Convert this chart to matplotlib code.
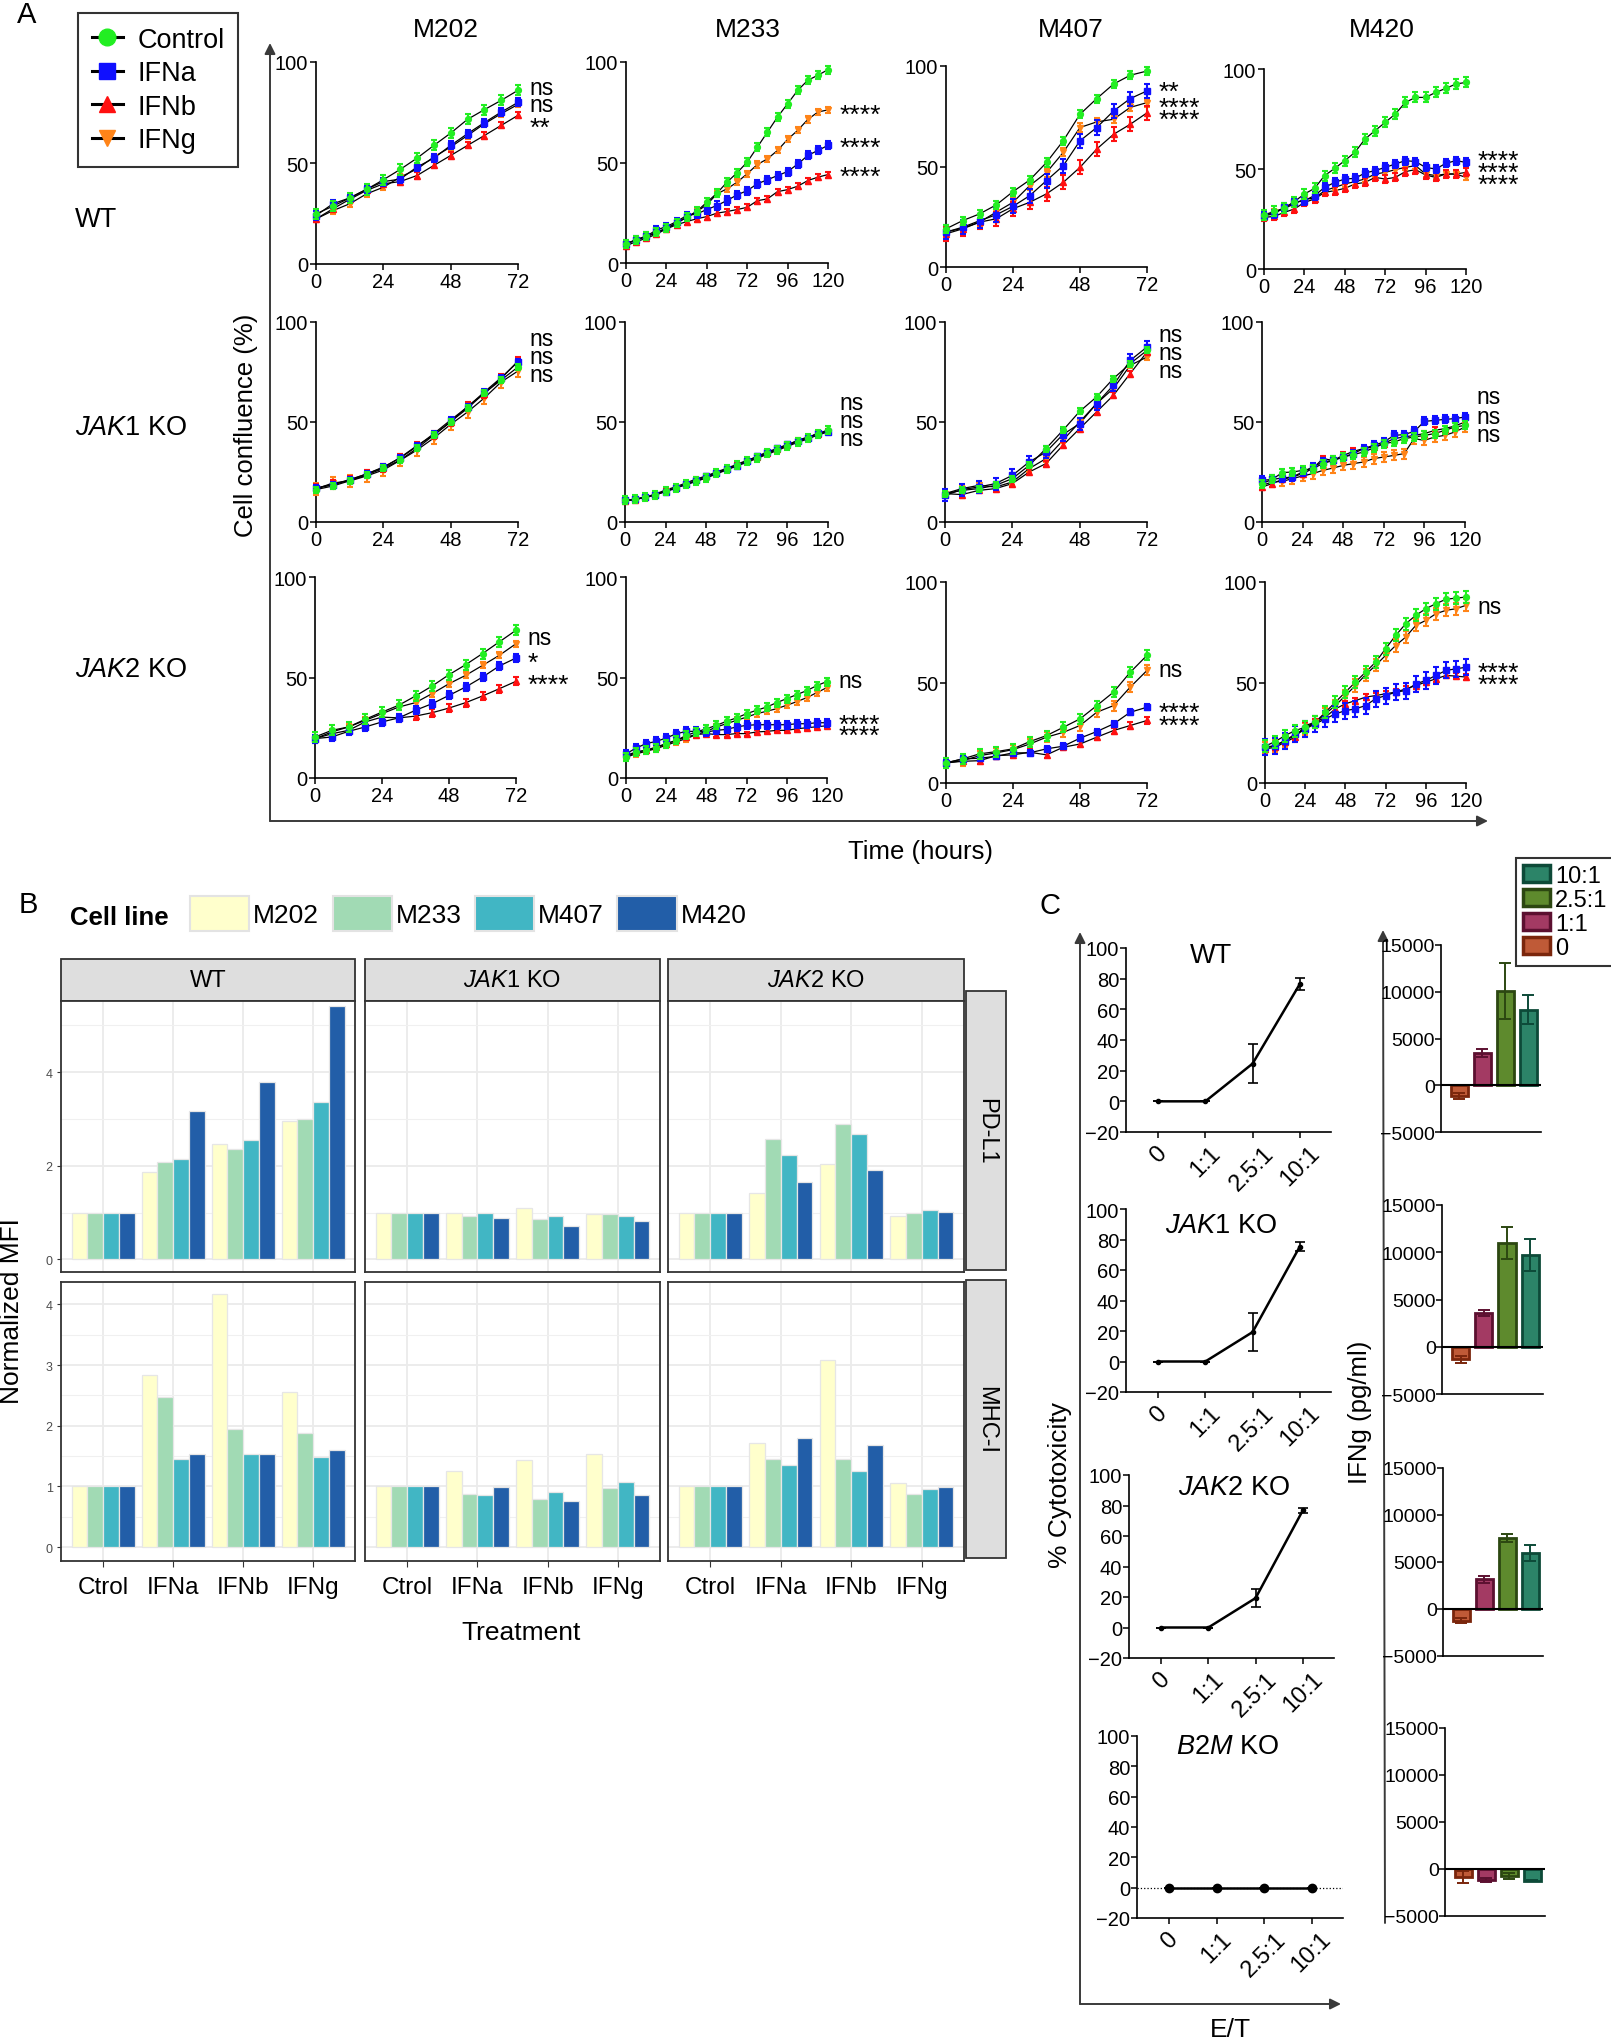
import numpy as np
import matplotlib.pyplot as plt
from matplotlib.lines import Line2D
from matplotlib.patches import Patch, Rectangle

plt.rcParams['font.family'] = ['Liberation Sans', 'DejaVu Sans']
plt.rcParams['mathtext.fontset'] = 'custom'
plt.rcParams['mathtext.rm'] = 'Liberation Sans'
plt.rcParams['mathtext.it'] = 'Liberation Sans:italic'
plt.rcParams['mathtext.bf'] = 'Liberation Sans:bold'

# ---------------- panel A: confluence (%) ; rows = Control, IFNa, IFNb, IFNg
treatments = ['Control', 'IFNa', 'IFNb', 'IFNg']
cell_lines = ['M202', 'M233', 'M407', 'M420']
hours = [72, 120, 72, 120]

wt_m202 = [
    [24.8, 28.6, 32.7, 36.9, 41.7, 46.8, 52.4, 58.7, 64.8, 71.6, 76.4, 81.0, 86.0],
    [24.0, 29.8, 32.7, 37.0, 40.8, 42.0, 48.0, 52.4, 58.7, 64.5, 70.0, 75.2, 80.0],
    [22.3, 27.3, 32.0, 36.4, 39.7, 40.8, 43.8, 48.8, 53.7, 58.7, 63.6, 68.6, 73.6],
    [22.3, 26.4, 29.8, 34.7, 38.0, 43.0, 47.0, 53.0, 57.9, 63.6, 69.4, 74.4, 79.0],
]
wt_m233 = [
    [9.5, 11.6, 13.3, 15.3, 17.3, 20.0, 22.8, 25.7, 30.2, 34.7, 40.2, 44.9, 50.2, 57.6, 65.1, 72.6, 79.2, 85.9, 90.9, 93.4, 96.2],
    [9.5, 11.6, 13.3, 16.4, 18.1, 20.6, 23.6, 24.4, 26.6, 28.6, 31.1, 33.9, 36.0, 39.4, 41.4, 43.5, 45.5, 49.2, 53.5, 56.0, 58.5],
    [8.6, 10.6, 12.3, 14.3, 17.0, 19.0, 20.6, 22.0, 23.1, 24.8, 25.6, 26.6, 27.7, 31.0, 31.9, 35.5, 36.5, 38.2, 41.0, 42.7, 44.0],
    [9.5, 11.4, 13.0, 15.0, 17.2, 19.8, 22.6, 25.5, 29.0, 34.4, 36.9, 40.2, 44.4, 49.0, 51.8, 56.0, 61.5, 66.0, 71.4, 75.1, 76.2],
]
wt_m407 = [
    [19.0, 23.1, 26.4, 30.9, 37.5, 43.3, 52.0, 62.8, 76.0, 83.8, 91.0, 95.4, 97.5],
    [17.4, 19.8, 23.0, 26.0, 30.2, 35.5, 43.0, 50.4, 62.8, 69.4, 77.6, 83.8, 87.6],
    [16.5, 19.0, 22.3, 24.0, 29.0, 32.2, 36.4, 42.1, 49.6, 58.7, 66.0, 71.0, 76.7],
    [17.4, 19.3, 22.3, 27.3, 32.2, 40.5, 47.0, 57.0, 69.4, 72.2, 73.5, 79.4, 81.8],
]
wt_m420 = [
    [27.0, 28.8, 30.3, 33.7, 37.5, 40.3, 46.7, 50.3, 54.2, 58.3, 65.0, 69.2, 73.3, 77.5, 83.3, 85.8, 85.8, 88.3, 90.3, 92.5, 93.3],
    [26.7, 27.5, 30.8, 33.3, 34.2, 36.7, 40.8, 43.3, 45.0, 45.3, 48.0, 49.2, 50.8, 52.5, 54.2, 53.7, 50.8, 50.0, 52.8, 54.2, 53.3],
    [25.8, 26.3, 28.3, 30.0, 33.3, 35.0, 38.3, 39.2, 40.3, 42.5, 43.3, 45.8, 45.0, 45.8, 48.7, 49.7, 47.0, 45.8, 47.5, 47.5, 48.3],
    [26.7, 28.3, 30.3, 32.5, 35.0, 35.3, 39.2, 40.8, 42.5, 43.7, 45.0, 47.5, 48.3, 49.7, 50.8, 51.7, 47.5, 46.7, 47.5, 47.5, 45.8],
]
jak1_m202 = [
    [16.2, 18.0, 20.6, 23.5, 26.8, 31.0, 36.8, 43.5, 50.2, 56.8, 64.5, 71.0, 77.5],
    [16.8, 18.6, 21.0, 24.0, 27.5, 32.0, 37.8, 44.2, 51.0, 57.5, 65.0, 72.2, 80.0],
    [17.0, 18.8, 21.2, 24.0, 27.2, 32.2, 38.2, 43.5, 50.0, 57.8, 64.2, 71.8, 80.5],
    [16.5, 19.5, 20.5, 23.0, 26.0, 30.8, 36.0, 42.0, 48.8, 55.0, 62.0, 70.0, 75.5],
]
jak1_m233 = [
    [10.8, 11.5, 12.5, 13.7, 15.5, 17.0, 18.8, 20.5, 22.2, 24.3, 26.3, 28.4, 30.3, 32.2, 34.3, 36.2, 38.2, 40.2, 42.0, 44.2, 46.0],
    [10.8, 11.3, 12.3, 13.6, 15.2, 16.8, 19.0, 20.8, 22.8, 24.6, 26.5, 28.2, 30.5, 32.8, 35.0, 36.8, 38.8, 40.5, 42.0, 44.5, 45.2],
    [10.5, 11.2, 12.4, 14.0, 16.0, 17.6, 19.5, 21.5, 23.0, 25.0, 26.8, 28.8, 30.8, 32.5, 34.5, 36.5, 38.5, 40.8, 42.5, 44.0, 45.5],
    [10.6, 11.4, 12.2, 13.5, 15.4, 17.2, 18.6, 20.3, 22.0, 24.0, 26.0, 28.0, 29.8, 31.8, 33.8, 35.8, 37.8, 39.8, 41.5, 43.5, 45.0],
]
jak1_m407 = [
    [14.2, 15.8, 16.7, 18.3, 21.7, 28.3, 36.7, 45.8, 55.3, 62.5, 71.7, 79.2, 85.8],
    [13.3, 16.2, 17.5, 19.2, 23.3, 30.0, 35.0, 43.7, 49.2, 59.2, 68.3, 80.8, 87.5],
    [14.2, 13.7, 15.8, 16.7, 19.2, 25.0, 29.2, 38.3, 46.7, 55.0, 63.3, 74.2, 85.0],
    [14.2, 16.7, 18.3, 17.5, 20.0, 26.7, 31.7, 40.8, 50.0, 59.2, 66.7, 78.3, 82.5],
]
jak1_m420 = [
    [19.2, 21.3, 24.7, 25.0, 25.8, 26.7, 29.2, 30.8, 32.5, 33.7, 35.0, 37.0, 39.2, 40.0, 41.7, 42.5, 43.3, 44.2, 45.8, 47.5, 48.3],
    [20.8, 21.3, 22.0, 22.5, 25.0, 27.5, 30.0, 30.8, 32.5, 34.2, 36.7, 38.3, 40.0, 43.3, 43.7, 45.3, 50.3, 50.8, 51.3, 51.7, 52.5],
    [17.5, 19.2, 21.3, 22.5, 24.2, 26.7, 31.7, 30.8, 33.3, 35.3, 36.7, 37.5, 39.2, 41.7, 42.5, 43.3, 44.2, 45.8, 46.7, 48.0, 50.0],
    [18.3, 20.0, 20.3, 21.7, 23.0, 24.2, 25.8, 27.0, 28.3, 29.2, 30.0, 31.7, 32.5, 33.3, 34.2, 41.7, 40.8, 42.5, 43.3, 45.0, 47.5],
]
jak2_m202 = [
    [20.4, 23.7, 25.4, 29.2, 32.8, 36.2, 40.8, 45.8, 51.4, 56.4, 61.9, 67.7, 73.5],
    [19.6, 20.4, 23.2, 25.4, 27.9, 29.9, 33.7, 37.0, 41.1, 45.3, 50.2, 55.7, 59.7],
    [19.6, 22.0, 23.7, 27.9, 30.3, 29.9, 30.8, 32.5, 34.8, 37.5, 40.8, 44.4, 48.1],
    [19.6, 22.9, 25.4, 28.7, 32.0, 35.3, 37.5, 42.0, 46.9, 51.1, 56.0, 61.0, 66.8],
]
jak2_m233 = [
    [10.4, 12.9, 13.8, 14.9, 17.1, 18.7, 21.2, 22.9, 24.5, 26.2, 28.2, 29.9, 32.0, 33.7, 35.3, 37.5, 39.5, 41.5, 43.5, 46.0, 48.0],
    [12.0, 14.9, 17.1, 18.2, 19.9, 22.0, 23.2, 23.2, 22.9, 23.7, 24.2, 25.4, 26.2, 26.5, 26.5, 26.5, 26.5, 27.0, 27.0, 27.5, 27.5],
    [11.3, 12.9, 13.8, 15.4, 17.1, 18.7, 20.4, 21.6, 22.1, 21.6, 21.6, 22.1, 22.1, 22.9, 23.2, 23.7, 23.7, 24.5, 25.0, 25.5, 26.0],
    [10.4, 12.0, 13.3, 14.6, 16.3, 18.0, 19.6, 21.6, 23.2, 25.4, 27.0, 28.7, 30.3, 32.0, 33.2, 34.5, 36.2, 38.0, 40.0, 42.5, 45.0],
]
jak2_m407 = [
    [10.0, 12.0, 14.5, 15.6, 17.0, 20.6, 23.6, 27.7, 31.9, 38.5, 45.2, 55.1, 63.5],
    [10.0, 12.0, 12.3, 13.3, 15.0, 15.0, 17.0, 18.3, 22.3, 25.6, 29.4, 35.2, 37.7],
    [10.0, 10.8, 11.1, 13.6, 14.0, 15.3, 14.0, 17.8, 19.4, 22.8, 26.1, 28.6, 31.1],
    [10.0, 11.1, 13.6, 15.0, 16.6, 19.4, 22.8, 25.2, 28.6, 35.2, 38.5, 47.7, 56.0],
]
jak2_m420 = [
    [18.3, 20.6, 23.6, 26.1, 27.7, 30.2, 35.2, 40.2, 45.2, 50.2, 55.1, 60.1, 66.8, 73.4, 79.2, 83.4, 86.7, 89.2, 91.4, 92.0, 92.5],
    [17.8, 18.6, 21.1, 24.4, 26.9, 29.4, 31.9, 34.4, 36.0, 36.9, 38.5, 41.9, 43.5, 45.2, 46.0, 49.3, 51.0, 53.5, 56.0, 56.8, 57.6],
    [16.9, 17.8, 20.3, 22.8, 28.6, 30.2, 32.7, 36.9, 39.4, 41.0, 42.7, 43.5, 44.4, 45.2, 46.8, 48.5, 50.2, 51.8, 53.5, 53.2, 52.7],
    [17.3, 18.6, 21.1, 23.6, 26.9, 30.2, 34.4, 38.5, 43.5, 48.5, 53.8, 58.5, 63.5, 68.4, 72.6, 78.4, 80.9, 84.2, 85.9, 86.7, 88.4],
]
# error bar half-widths per treatment
wt_err = [[2.5, 2.0, 1.5, 1.5], [2.0, 2.0, 1.5, 1.5], [2.0, 3.5, 3.5, 2.0], [2.5, 2.0, 2.0, 1.5]]
jak1_err = [[1.5, 1.5, 2.0, 3.0], [2.0, 1.0, 1.0, 1.0], [1.5, 3.0, 1.5, 1.5], [2.0, 2.0, 1.5, 2.5]]
jak2_err = [[2.5, 2.0, 2.0, 1.5], [2.0, 2.0, 1.0, 1.5], [2.5, 1.5, 1.5, 2.5], [3.0, 4.0, 1.5, 3.0]]

wt_sig = [['ns', 'ns', '**'], ['****'] * 3, ['**', '****', '****'], ['****'] * 3]
wt_sig_y = [[87.6, 79.2, 65.5], [71.6, 55.2, 40.8], [85.0, 77.0, 71.0], [52.0, 46.0, 40.0]]
jak1_sig = [['ns'] * 3] * 4
jak1_sig_y = [[91.5, 82.5, 73.5], [60.0, 51.0, 42.0], [94.0, 85.0, 76.0], [62.5, 53.0, 44.0]]
jak2_sig = [['ns', '*', '****'], ['ns', '****', '****'], ['ns', '****', '****'], ['ns', '****', '****']]
jak2_sig_y = [[70.1, 55.0, 44.3], [48.3, 24.4, 18.9], [56.7, 32.8, 26.3], [87.6, 52.7, 46.7]]

# ---------------- panel B: normalized MFI ; rows = cell lines, cols = treatments
b_treat = ['Ctrol', 'IFNa', 'IFNb', 'IFNg']
pdl1_wt = [[1.0, 1.86, 2.46, 2.95], [1.0, 2.09, 2.36, 2.99], [1.0, 2.14, 2.56, 3.36], [1.0, 3.16, 3.78, 5.41]]
pdl1_jak1 = [[1.0, 1.0, 1.10, 0.96], [1.0, 0.93, 0.87, 0.96], [1.0, 1.0, 0.93, 0.93], [1.0, 0.89, 0.71, 0.81]]
pdl1_jak2 = [[1.0, 1.41, 2.04, 0.93], [1.0, 2.57, 2.89, 1.0], [1.0, 2.24, 2.68, 1.05], [1.0, 1.66, 1.91, 1.02]]
mhc_wt = [[1.0, 2.84, 4.18, 2.56], [1.0, 2.47, 1.95, 1.88], [1.0, 1.45, 1.54, 1.49], [1.0, 1.54, 1.54, 1.60]]
mhc_jak1 = [[1.0, 1.25, 1.43, 1.54], [1.0, 0.88, 0.79, 0.97], [1.0, 0.85, 0.90, 1.08], [1.0, 0.99, 0.76, 0.85]]
mhc_jak2 = [[1.0, 1.72, 3.09, 1.06], [1.0, 1.45, 1.45, 0.88], [1.0, 1.35, 1.25, 0.95], [1.0, 1.79, 1.68, 0.99]]

# ---------------- panel C
et_ratio = ['0', '1:1', '2.5:1', '10:1']
cyto_wt = [0, 0, 24.6, 76.5]
cyto_wt_err = [0, 0, 12.7, 4.0]
cyto_jak1 = [0, 0, 19.3, 75.4]
cyto_jak1_err = [0, 0, 12.5, 3.0]
cyto_jak2 = [0, 0, 19.3, 76.8]
cyto_jak2_err = [0, 0, 6.0, 1.5]
cyto_b2m = [0, 0, 0, 0]
cyto_b2m_err = [0, 0, 0, 0]

ifng_wt = [-1180, 3430, 10050, 8100]
ifng_wt_err = [330, 400, 3000, 1500]
ifng_jak1 = [-1330, 3550, 11000, 9700]
ifng_jak1_err = [380, 300, 1700, 1650]
ifng_jak2 = [-1230, 3150, 7570, 5970]
ifng_jak2_err = [310, 390, 430, 870]
ifng_b2m = [-810, -1150, -710, -1230]
ifng_b2m_err = [640, 200, 310, 80]

# ---------------- figure
W, H = 1611, 2040
fig = plt.figure(figsize=(W / 100, H / 100), dpi=100)


def box(x0, y0, x1, y1):
    return [x0 / W, 1 - y1 / H, (x1 - x0) / W, (y1 - y0) / H]


ov = fig.add_axes([0, 0, 1, 1], zorder=-1)
ov.set_xlim(0, W)
ov.set_ylim(H, 0)
ov.axis('off')


def arrow(x0, y0, x1, y1):
    ov.annotate('', xy=(x1, y1), xytext=(x0, y0),
                arrowprops=dict(arrowstyle='-|>', color='#3a3a3a', lw=1.4,
                                mutation_scale=16, shrinkA=0, shrinkB=0))


# ======== A ========
ser_colors = ['#22EE22', '#1010FF', '#FF1010', '#FF8418']
ser_markers = ['o', 's', '^', 'v']

a_data = [[wt_m202, wt_m233, wt_m407, wt_m420],
          [jak1_m202, jak1_m233, jak1_m407, jak1_m420],
          [jak2_m202, jak2_m233, jak2_m407, jak2_m420]]
a_err = [wt_err, jak1_err, jak2_err]
a_sig = [wt_sig, jak1_sig, jak2_sig]
a_sig_y = [wt_sig_y, jak1_sig_y, jak2_sig_y]
a_boxes = [
    [(316, 63, 518, 265), (626, 63, 828, 264), (946, 67, 1147, 268), (1264, 70, 1466, 270)],
    [(316, 323, 518, 523), (625, 323, 828, 523), (945, 323, 1147, 523), (1262, 323, 1465, 523)],
    [(315, 578, 516, 779), (626, 578, 827, 779), (946, 583, 1147, 784), (1265, 583, 1466, 784)],
]

for r in range(3):
    for c in range(4):
        ax = fig.add_axes(box(*a_boxes[r][c]))
        tmax = hours[c]
        t = np.arange(0, tmax + 1, 6)
        for i in [3, 2, 1, 0]:
            y = a_data[r][c][i]
            ln, = ax.plot(t, y, color='black', lw=0.9, zorder=2)
            ln.set_clip_on(False)
            eb = ax.errorbar(t, y, yerr=a_err[r][c][i], fmt=ser_markers[i], color=ser_colors[i],
                             ms=4.2, capsize=2.3, elinewidth=1.5, capthick=1.5, zorder=3 + (3 - i))
            for art in [eb.lines[0], *eb.lines[1], *eb.lines[2]]:
                art.set_clip_on(False)
        ax.set_xlim(0, tmax)
        ax.set_ylim(0, 100)
        ax.set_xticks(range(0, tmax + 1, 24))
        ax.set_yticks([0, 50, 100])
        for s in ['top', 'right']:
            ax.spines[s].set_visible(False)
        for s in ['left', 'bottom']:
            ax.spines[s].set_linewidth(1.2)
        ax.tick_params(labelsize=14.5, length=4, width=1.1, pad=1.5)
        ax.set_facecolor('none')
        for lab, yv in zip(a_sig[r][c], a_sig_y[r][c]):
            star = '*' in lab
            ax.annotate(lab, xy=(tmax, yv), xytext=(8, 3 if star else 0), textcoords='offset points',
                        va='center', ha='left', fontsize=19 if star else 16.5,
                        annotation_clip=False)

for name, x in zip(cell_lines, [446, 748, 1071, 1382]):
    ov.text(x, 30, name, fontsize=19, ha='center', va='center')
ov.text(75, 220, 'WT', fontsize=19.5, ha='left', va='center')
ov.text(75, 428, r'$\mathit{JAK1}$ KO', fontsize=19.5, ha='left', va='center')
ov.text(75, 670, r'$\mathit{JAK2}$ KO', fontsize=19.5, ha='left', va='center')
ov.text(27, 15, 'A', fontsize=21, ha='center', va='center')
arrow(270, 822, 270, 44)
arrow(270, 822, 1488, 822)
ov.text(246, 425, 'Cell confluence (%)', fontsize=18.5, rotation=90, ha='center', va='center')
ov.text(921, 852, 'Time (hours)', fontsize=18.5, ha='center', va='center')

a_handles = [Line2D([0], [0], color='black', lw=2.2, marker=m, mfc=col, mec=col, ms=12)
             for m, col in zip(ser_markers, ser_colors)]
fig.legend(a_handles, treatments, loc='upper left', bbox_to_anchor=(78 / W, 1 - 14 / H),
           borderaxespad=0, frameon=True, fancybox=False, edgecolor='black', fontsize=19.5,
           handlelength=1.15, handletextpad=0.55, labelspacing=0.28, borderpad=0.5
           ).get_frame().set_linewidth(1.5)

# ======== B ========
b_colors = ['#FFFFCC', '#A1DAB4', '#41B6C4', '#225EA8']
b_data = [[pdl1_wt, pdl1_jak1, pdl1_jak2], [mhc_wt, mhc_jak1, mhc_jak2]]
b_cols = [(61, 355), (365, 660), (668, 964)]
b_rows = [(1002, 1273), (1283, 1562)]
b_ylims = [(-0.27, 5.52), (-0.23, 4.37)]
b_major = [[0, 2, 4], [0, 1, 2, 3, 4]]
b_minor = [[1, 3, 5], [0.5, 1.5, 2.5, 3.5]]
offsets = [-0.3375, -0.1125, 0.1125, 0.3375]
xpos = np.arange(1, 5)

for r in range(2):
    for c in range(3):
        x0, x1 = b_cols[c]
        y0, y1 = b_rows[r]
        ax = fig.add_axes(box(x0, y0, x1, y1))
        for k in range(4):
            ax.bar(xpos + offsets[k], b_data[r][c][k], width=0.225, color=b_colors[k],
                   edgecolor='#E6E6E6', lw=0.9, zorder=2)
        ax.set_xlim(0.4, 4.6)
        ax.set_ylim(*b_ylims[r])
        ax.set_yticks(b_major[r])
        ax.set_yticks(b_minor[r], minor=True)
        ax.set_xticks(xpos)
        ax.set_xticklabels(b_treat)
        ax.set_axisbelow(True)
        ax.grid(which='major', color='#EBEBEB', lw=1.3)
        ax.grid(which='minor', axis='y', color='#F0F0F0', lw=0.8)
        for s in ax.spines.values():
            s.set_color('#333333')
            s.set_linewidth(1.3)
        ax.tick_params(which='minor', length=0)
        ax.tick_params(axis='y', labelsize=9, labelcolor='#4D4D4D', color='#333333',
                       length=3, pad=3, labelleft=(c == 0))
        if c > 0:
            ax.tick_params(axis='y', length=0)
        ax.tick_params(axis='x', labelsize=17.5, color='#333333', length=4, pad=7,
                       labelbottom=(r == 1))
        if r == 0:
            ax.tick_params(axis='x', length=0)

strip_lab = ['WT', r'$\mathit{JAK1}$ KO', r'$\mathit{JAK2}$ KO']
for (x0, x1), lab in zip(b_cols, strip_lab):
    ov.add_patch(Rectangle((x0, 960), x1 - x0, 42, fc='#DEDEDE', ec='#333333', lw=1.3))
    ov.text((x0 + x1) / 2, 981, lab, fontsize=17, ha='center', va='center')
for (y0, y1), lab in zip([(992, 1271), (1281, 1559)], ['PD-L1', 'MHC-I']):
    ov.add_patch(Rectangle((966, y0), 40, y1 - y0, fc='#DEDEDE', ec='#333333', lw=1.3))
    ov.text(986, (y0 + y1) / 2, lab, fontsize=17, ha='center', va='center', rotation=-90)

ov.text(28, 905, 'B', fontsize=21, ha='center', va='center')
ov.text(70, 918, 'Cell line', fontsize=18.5, fontweight='bold', ha='left', va='center')
b_handles = [Patch(facecolor=col, edgecolor='#E3E3E3', lw=1.5) for col in b_colors]
fig.legend(b_handles, cell_lines, loc='upper left', bbox_to_anchor=(190 / W, 1 - 897 / H),
           borderaxespad=0, borderpad=0, frameon=False, ncol=4, fontsize=19,
           handlelength=2.25, handleheight=1.65, columnspacing=0.5, handletextpad=0.15)
ov.text(12, 1311, 'Normalized MFI', fontsize=19, rotation=90, ha='center', va='center')
ov.text(521, 1633, 'Treatment', fontsize=19, ha='center', va='center')

# ======== C ========
c_cyto = [(cyto_wt, cyto_wt_err), (cyto_jak1, cyto_jak1_err),
          (cyto_jak2, cyto_jak2_err), (cyto_b2m, cyto_b2m_err)]
c_cyto_boxes = [(1126, 949, 1331, 1133), (1126, 1210, 1331, 1393),
                (1129, 1476, 1334, 1659), (1137, 1737, 1343, 1919)]
c_titles = ['WT', r'$\mathit{JAK1}$ KO', r'$\mathit{JAK2}$ KO', r'$\mathit{B2M}$ KO']
c_title_pos = [(1211, 956), (1221, 1226), (1234, 1488), (1228, 1747)]

for k in range(4):
    ax = fig.add_axes(box(*c_cyto_boxes[k]))
    vals, err = c_cyto[k]
    xs = np.arange(4)
    if k == 3:
        ax.axhline(0, color='black', lw=0.9, ls=':', zorder=1)
    ax.errorbar(xs, vals, yerr=err, color='black', marker='o', ms=6 if k == 3 else 3,
                lw=1.8, capsize=3.5, elinewidth=1.2, capthick=1.2, zorder=3)
    ax.set_xlim(-0.68, 3.66)
    ax.set_ylim(-20, 100)
    ax.set_yticks(range(-20, 101, 20))
    ax.set_xticks(xs)
    ax.set_xticklabels(et_ratio, rotation=45, ha='center', va='top')
    for s in ['top', 'right']:
        ax.spines[s].set_visible(False)
    for s in ['left', 'bottom']:
        ax.spines[s].set_linewidth(1.2)
    ax.tick_params(axis='y', labelsize=14.5, length=4, width=1.1, pad=1)
    ax.tick_params(axis='x', labelsize=17, length=4, width=1.1, pad=3)
    ax.set_facecolor('none')
    ov.text(*c_title_pos[k], c_titles[k], fontsize=19.5, ha='center', va='center')

c_fill = ['#BF5A37', '#A33A63', '#5E8A2D', '#2C8468']
c_edge = ['#7A260C', '#5C1030', '#2C4711', '#0D4A38']
c_ifng = [(ifng_wt, ifng_wt_err), (ifng_jak1, ifng_jak1_err),
          (ifng_jak2, ifng_jak2_err), (ifng_b2m, ifng_b2m_err)]
c_ifng_boxes = [(1441, 946, 1541, 1133), (1442, 1206, 1543, 1395),
                (1443, 1469, 1543, 1657), (1445, 1729, 1545, 1917)]

for k in range(4):
    ax = fig.add_axes(box(*c_ifng_boxes[k]))
    vals, err = c_ifng[k]
    xs = np.arange(4)
    ax.bar(xs, vals, width=0.74, color=c_fill, edgecolor=c_edge, lw=2, zorder=2)
    for j in range(4):
        ax.errorbar(xs[j], vals[j], yerr=err[j], color=c_edge[j], capsize=4,
                    elinewidth=1.4, capthick=1.4, zorder=3)
    ax.axhline(0, color='black', lw=1.5, zorder=4)
    ax.set_xlim(-0.8, 3.55)
    ax.set_ylim(-5000, 15000)
    ax.set_yticks([-5000, 0, 5000, 10000, 15000])
    ax.set_xticks([])
    for s in ['top', 'right']:
        ax.spines[s].set_visible(False)
    for s in ['left', 'bottom']:
        ax.spines[s].set_linewidth(1.2)
    ax.tick_params(axis='y', labelsize=14, length=4, width=1.1, pad=0.5)
    ax.set_facecolor('none')

c_handles = [Patch(facecolor=c_fill[j], edgecolor=c_edge[j], lw=2.5) for j in [3, 2, 1, 0]]
fig.legend(c_handles, [et_ratio[j] for j in [3, 2, 1, 0]], loc='upper left',
           bbox_to_anchor=(1516 / W, 1 - 859 / H), borderaxespad=0, frameon=True,
           fancybox=False, edgecolor='black', fontsize=17, handlelength=1.15,
           handleheight=0.75, labelspacing=0.08, borderpad=0.3, handletextpad=0.2
           ).get_frame().set_linewidth(1.5)

ov.text(1050, 906, 'C', fontsize=21, ha='center', va='center')
arrow(1080, 2005, 1080, 933)
arrow(1080, 2005, 1341, 2005)
arrow(1385, 1924, 1383, 931)
ov.text(1060, 1485, '% Cytotoxicity', fontsize=19, rotation=90, ha='center', va='center')
ov.text(1360, 1412, 'IFNg (pg/ml)', fontsize=18.5, rotation=90, ha='center', va='center')
ov.text(1230, 2030, 'E/T', fontsize=19, ha='center', va='center')

fig.savefig('out.png', dpi=100)
